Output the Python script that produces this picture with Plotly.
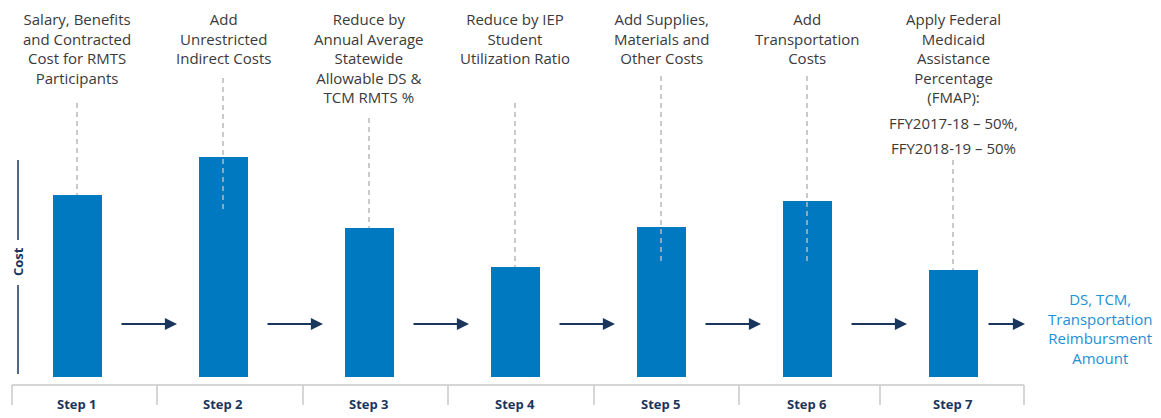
import plotly.graph_objects as go

# ---- data ----
steps = ["Step 1", "Step 2", "Step 3", "Step 4", "Step 5", "Step 6", "Step 7"]
cost_values = [182, 220, 149, 110, 150, 176, 107]
step_descriptions = [
    "Salary, Benefits<br>and Contracted<br>Cost for RMTS<br>Participants",
    "Add<br>Unrestricted<br>Indirect Costs",
    "Reduce by<br>Annual Average<br>Statewide<br>Allowable DS &<br>TCM RMTS %",
    "Reduce by IEP<br>Student<br>Utilization Ratio",
    "Add Supplies,<br>Materials and<br>Other Costs",
    "Add<br>Transportation<br>Costs",
    "Apply Federal<br>Medicaid<br>Assistance<br>Percentage<br>(FMAP):",
]
fmap_lines = ["FFY2017-18 – 50%,", "FFY2018-19 – 50%"]
result_label = "DS, TCM,<br>Transportation<br>Reimbursment<br>Amount"
y_label = "Cost"

# ---- layout helpers (pixel -> data) ----
W, H = 1161, 418
X0_PX, STEP_PX = 77, 146      # pixel of step 0 and pixel per step
Y0_PX = 377                   # pixel of zero cost
def px(p):
    return (p - X0_PX) / STEP_PX
def py(p):
    return Y0_PX - p

BAR_COLOR = "#0079C1"
NAVY = "#1B365D"
TEXT = "#3A3A3A"
GRAY = "#C8C8C8"
DASH = "#B9B9B9"
LIGHTBLUE = "#1E90D6"
FONT = "Open Sans"
FS = 15

xs = list(range(len(steps)))

fig = go.Figure()
fig.add_trace(go.Bar(x=xs, y=cost_values, width=49 / STEP_PX,
                     marker=dict(color=BAR_COLOR, line=dict(width=0)),
                     hoverinfo="skip"))

shapes = []
annotations = []

# dashed guide lines: top pixel, bottom pixel
dash_top = [103, 78, 118, 103, 76, 76, 160]
dash_bottom_px = [195, 209, 228, 267, 265, 265, 270]
for i in xs:
    shapes.append(dict(type="line", xref="x", yref="y", x0=i, x1=i,
                       y0=py(dash_top[i]), y1=py(dash_bottom_px[i]),
                       line=dict(color=DASH, width=1.5, dash="5px,4px"),
                       layer="above"))

# step description texts
for i, t in enumerate(step_descriptions):
    annotations.append(dict(x=i, y=py(7), xref="x", yref="y", text=t,
                            showarrow=False, xanchor="center", yanchor="top",
                            align="center",
                            font=dict(family=FONT, size=FS, color=TEXT)))
annotations.append(dict(x=6, y=py(123), xref="x", yref="y", text=fmap_lines[0],
                        showarrow=False, xanchor="center", yanchor="middle",
                        font=dict(family=FONT, size=FS, color=TEXT)))
annotations.append(dict(x=6, y=py(148), xref="x", yref="y", text=fmap_lines[1],
                        showarrow=False, xanchor="center", yanchor="middle",
                        font=dict(family=FONT, size=FS, color=TEXT)))

# arrows between steps
arrow_y = py(324)
for i in xs[:-1]:
    annotations.append(dict(x=i + 100 / STEP_PX, y=arrow_y,
                            ax=i + 43 / STEP_PX, ay=arrow_y,
                            xref="x", yref="y", axref="x", ayref="y",
                            text="", showarrow=True, arrowhead=2,
                            arrowsize=1.1, arrowwidth=2.2, arrowcolor=NAVY))
# final arrow
annotations.append(dict(x=px(1025), y=arrow_y, ax=px(987), ay=arrow_y,
                        xref="x", yref="y", axref="x", ayref="y",
                        text="", showarrow=True, arrowhead=2,
                        arrowsize=1.1, arrowwidth=2.2, arrowcolor=NAVY))

# result label
annotations.append(dict(x=px(1100), y=py(287), xref="x", yref="y",
                        text=result_label, showarrow=False,
                        xanchor="center", yanchor="top", align="center",
                        font=dict(family=FONT, size=FS, color=LIGHTBLUE)))

# bottom category axis
boundaries_px = [12, 157, 303, 448, 594, 739, 880, 1024]
shapes.append(dict(type="line", xref="x", yref="y", x0=px(12), x1=px(1024),
                   y0=py(385), y1=py(385), line=dict(color=GRAY, width=1.5)))
for b in boundaries_px:
    shapes.append(dict(type="line", xref="x", yref="y", x0=px(b), x1=px(b),
                       y0=py(385), y1=py(405), line=dict(color=GRAY, width=1.5)))
for i, s in enumerate(steps):
    annotations.append(dict(x=i, y=py(404), xref="x", yref="y",
                            text="<b>%s</b>" % s, showarrow=False,
                            xanchor="center", yanchor="middle",
                            font=dict(family=FONT, size=13, color=NAVY)))

# vertical "Cost" axis
shapes.append(dict(type="line", xref="x", yref="y", x0=px(18), x1=px(18),
                   y0=py(160), y1=py(240), line=dict(color=NAVY, width=1.5)))
shapes.append(dict(type="line", xref="x", yref="y", x0=px(18), x1=px(18),
                   y0=py(285), y1=py(374), line=dict(color=NAVY, width=1.5)))
annotations.append(dict(x=px(18), y=py(262), xref="x", yref="y",
                        text="<b>%s</b>" % y_label, showarrow=False,
                        textangle=-90, xanchor="center", yanchor="middle",
                        font=dict(family=FONT, size=13, color=NAVY)))

fig.update_layout(
    width=W, height=H, margin=dict(l=0, r=0, t=0, b=0),
    paper_bgcolor="white", plot_bgcolor="white", showlegend=False,
    xaxis=dict(range=[px(0), px(W)], visible=False, fixedrange=True),
    yaxis=dict(range=[py(H), py(0)], visible=False, fixedrange=True),
    shapes=shapes, annotations=annotations, bargap=0,
)

fig.write_html("out.html", config={"displayModeBar": False},
               post_script="document.body.style.margin='0px';document.body.style.overflow='hidden';")
